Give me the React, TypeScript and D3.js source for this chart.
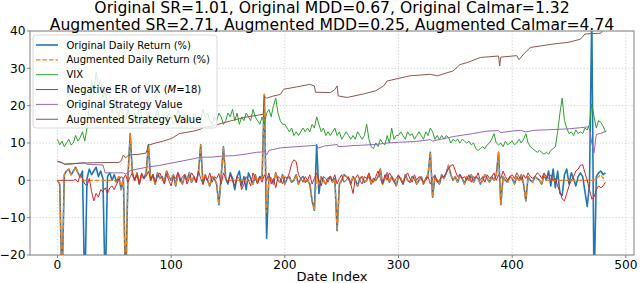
import React from "react";
import * as d3 from "d3";

const titleLines = [
  "Original SR=1.01, Original MDD=0.67, Original Calmar=1.32",
  "Augmented SR=2.71, Augmented MDD=0.25, Augmented Calmar=4.74",
];
const xTicks = [0, 100, 200, 300, 400, 500];
const yTicks = [-20, -10, 0, 10, 20, 30, 40];
const xLabel = "Date Index";

// sampled date indices (every second trading day, 0..482)
const dateIndex = d3.range(0, 484, 2);

const originalReturn = [
  0, -1, -30, 1.5, 2.5, 3, 1.5, 2.5, 3.5, 2,
  1, 2.5, -30, 0.5, 3, 1.5, 2.5, 3.5, 1, 2.5,
  0.5, -30, 1, 2, 0, 1.5, -0.5, 1, -2.5, 0.5,
  -30, 1, 12.5, 1.5, 0, 2, -1, 1.5, 0.5, 2,
  9.5, 0, 1.5, -1, 2, 0.5, 1, -0.5, 2.5, 1,
  0, 1.5, -1.5, 2, 0.5, -1, 1.5, 0, 2, -0.5,
  1, -0.5, 2, 9.5, -1, 1.5, 0, -1.5, 1, 0.5,
  -1, -6.5, 1, 9, 0.5, -1, 2, 0.5, -2.5, 1,
  2.5, -1.5, 1, -2.5, 2, 0.5, -1, 1.5, -0.5, 1,
  0.5, 23, -15.5, 1, 0.5, -1, 2, 0, -0.5, 1.5,
  -1, 0.5, 1, -0.5, 0, 1.5, -1, 0.5, 1, -0.5,
  0, -1, -5.5, -8, 9.5, -3.5, 1, 0, -1, 0.5,
  1, -0.5, 0.5, -13.5, -1, 0, 1.5, 1, 0.5, -1,
  1, 0, -1.5, 0.5, 1, -0.5, 0, 1.5, -1, 0.5,
  0, 1, 3, -1, 0.5, 2, -0.5, 1, 0, -1.5,
  1, 0.5, -1, 1.5, 0, -0.5, 1, 0.5, -1, 0,
  1, -1, 0.5, 1.5, 7.5, -4.5, 1, 0, -1, 1.5,
  0.5, 2, 4, 1.5, 0, 1, -0.5, 1.5, 0.5, -1,
  1, 0, 1.5, -0.5, 1, 0.5, -1, 0, 1.5, 0.5,
  -0.5, 1, 0, 1.5, 7.5, -6.5, 1, 0, -0.5, 1,
  0.5, -1, 1, 0, 1.5, -1, -5.5, 1, 0, -0.5,
  1, 0.5, 0, -1, 1.5, 0, 2.5, -1.5, 3, -2,
  2.5, -3.5, -4, 1.5, 3, -1, 2, 0.5, -1.5, 1,
  2, 1, -3, -7, -1, 45, -30, 1, 2, 2.5,
  1.5, 2,
];

const augmentedReturn = [
  0, -1, -30, 1.5, 2.5, 3, 1.5, 2.5, 3.5, 2,
  1, 0, 0, 0, 0, 0, 0, 0, 0, 0,
  0, 0, 0, 0, 0, 0, -0.5, 1, -2.5, 0.5,
  -30, 1, 12.5, 1.5, 0, 2, -1, 1.5, 0.5, 2,
  9.5, 0, 1.5, -1, 2, 0.5, 1, -0.5, 2.5, 1,
  0, 1.5, -1.5, 2, 0.5, -1, 1.5, 0, 2, -0.5,
  1, -0.5, 2, 9.5, -1, 1.5, 0, -1.5, 1, 0.5,
  -1, -6.5, 1, 9, 0.5, 0, 0, 0, 0, 0,
  0, 0, 0, 0, 0, 0, -1, 1.5, -0.5, 1,
  0.5, 23, -8.5, 1, 0.5, -1, 2, 0, -0.5, 1.5,
  -1, 0.5, 1, -0.5, 0, 1.5, -1, 0.5, 1, -0.5,
  0, -1, -5.5, -8, 1, -1, 1, 0, -1, 0.5,
  1, -0.5, 0.5, -13.5, -1, 0, 1.5, 1, 0.5, -1,
  1, 0, -1.5, 0.5, 1, -0.5, 0, 1.5, -1, 0.5,
  0, 1, 3, -1, 0.5, 2, -0.5, 1, 0, -1.5,
  1, 0.5, -1, 1.5, 0, -0.5, 1, 0.5, -1, 0,
  1, -1, 0.5, 1.5, 7.5, -4.5, 1, 0, -1, 1.5,
  0.5, 2, 4, 1.5, 0, 1, -0.5, 1.5, 0.5, -1,
  1, 0, 1.5, -0.5, 1, 0.5, -1, 0, 1.5, 0.5,
  -0.5, 1, 0, 1.5, 7.5, -6.5, 1, 0, -0.5, 1,
  0.5, -1, 1, 0, 1.5, -1, -5.5, 1, 0, -0.5,
  1, 0.5, 0, -1, 1.5, 0, 0, 0, 0, 0,
  0, 0, 0, 0, 0, 0, 0, 0, 0, 0,
  0, 0, 0, 0, 0, 0, 0, 0.5, 1, 1.5,
  0.5, 1,
];

const vix = [
  11, 9.5, 10.5, 9, 10, 11, 9.5, 10, 12, 10.5,
  11.5, 13, 10.5, 14, 20, 27, 23, 29, 25, 27,
  22, 24, 20, 21, 18, 22, 19, 17, 20, 18,
  16, 19, 17, 15, 18, 16, 20, 17, 15, 16,
  18, 16, 15, 17, 19, 16, 15, 17, 16, 18,
  17, 15, 16, 19, 17, 16, 18, 15, 17, 16,
  18, 17, 15, 16, 19, 17, 18, 16, 15, 17,
  16, 18, 17, 15, 16, 18, 17, 19, 16, 18,
  15, 17, 16, 18, 17, 16, 19, 17, 16, 15,
  17, 15, 18, 19, 17, 20, 22, 18, 16, 15,
  15, 14, 13, 14, 12, 13, 12, 13, 14, 13,
  14, 13, 15, 14, 17, 15, 13, 14, 12, 13,
  12, 13, 14, 12, 13, 11, 12, 13, 12, 11,
  12, 11, 13, 12, 11, 12, 15, 11, 9, 8.5,
  10, 9, 11, 10, 9.5, 12, 10, 14, 11, 12,
  12, 13, 12, 11, 13, 12, 12.5, 11, 12, 13,
  12, 11, 13, 12, 14, 13, 11, 12, 11, 12,
  11, 12, 11.5, 10, 11, 10.5, 11, 10, 11, 10.5,
  10, 10.5, 9.5, 10, 8.5, 8, 8.5, 9, 8.5, 9.5,
  10, 11, 12.5, 10, 9.5, 10, 9, 10.5, 9.5, 10,
  10.5, 9.5, 10, 11, 10, 11, 12.5, 10, 9, 8.5,
  8, 7.5, 8, 7.5, 7, 7.5, 7, 8, 8.5, 9,
  13, 18, 22, 16, 14, 12.5, 13, 12, 13.5, 12.5,
  13, 12.5, 14, 13.5, 15, 20.5, 17, 14, 16, 15.5,
  14.5, 13,
];

const negativeER = [
  0, 0, 0, 0, 0, 0, 0, 0, 0.3, -0.5,
  1.5, 0.5, -1, -1.5, 0.5, -3, -5.5, -3.5, -4.5, -2.5,
  -3, -2, -3.5, -2, -1.5, -2.5, -1, 0, 1, 0.5,
  1.5, -0.5, 1, 2, 0, 1.5, -1, 2, 0.5, 1,
  2.5, 0, 1.5, -0.5, 1, 2, 0.5, -1, 1.5, 0,
  -1.5, 1, 0.5, 2, -0.5, 1, 1.5, -1, 0.5, 2,
  1, -0.5, 2.5, 0.5, -1, 1, 0, 2, -0.5, 1,
  0.5, 1.8, -1, 2, 0.5, -0.5, 1.5, 0, -1.5, 1,
  0.5, -2.5, -1, 1, 0, -1.5, 2, 0.5, -1, 1,
  -0.5, 1.5, 0, 2, -1, 0.5, -2, 1, 0.5, -1,
  1, 0.5, 2, 4.5, 5.5, 5, 1.5, 0.5, -0.5, 1,
  0, 1.5, -1, 0.5, 2, 0, -1.5, 1, 0.5, -0.5,
  1, 0, 1.5, -1, 0.5, 1.5, -0.5, 0, 1, -1,
  -3.5, 0.5, 1.5, 0, -1, 1, 0.5, 2, 0, -0.5,
  1, 2.5, 0.5, -1, 1.5, 0, 2, 1, -0.5, 0.5,
  1.5, 0, -1, 1, 2, 0.5, -0.5, 1.5, 0, 1,
  0.5, -0.5, 0, 1, -1, 0.5, 1.5, -0.5, 0, 1,
  1, 2, 3, 4, 4.2, 2.5, 1, 1.5, 0.5, 1,
  0, 1.5, -0.5, 1, 0.5, 2, 0, 1, -0.5, 1.5,
  0.5, 1, 2, 0, 1.5, 0.5, 2.5, 1, 0, 1,
  1.5, 0.5, 2, 1, 0, 1.5, 0.5, 2, 1, 0.5,
  1, 2, 1.5, 0.5, 2, 1, 0.5, 1.5, 0, 0.5,
  -1.5, -3, -5, -5.5, -3.5, -1.5, 0, 1, 2.5, 3,
  4, 4.2, 2, 0, -2.5, -5, -4.5, -2.5, -1.5, -2,
  -1.5, -0.5,
];

// strategy value curves (vertices at given date indices)
const origValueIdx = [0, 6, 20, 24, 26, 40, 42, 58, 60, 64, 70, 80, 90, 100, 110, 120, 126, 135, 145, 155, 165, 175, 180, 182, 184, 186, 196, 210, 228, 229, 235, 246, 247, 260, 280, 290, 300, 315, 328, 330, 340, 350, 365, 378, 388, 390, 400, 407, 412, 420, 436, 450, 460, 466, 468, 470, 472, 474, 478, 483];
const origValue = [5.1, 4.4, 4.6, 4.7, 4.3, 4.1, 2.0, 2.0, 1.7, 2.6, 3.0, 3.6, 4.0, 4.6, 5.2, 5.8, 6.2, 6.2, 6.5, 6.6, 7.0, 7.5, 7.6, 7.9, 6.8, 8.0, 8.7, 9.0, 9.4, 8.6, 9.2, 9.6, 9.0, 9.3, 9.6, 10.0, 10.2, 10.4, 10.9, 10.5, 11.2, 11.8, 12.5, 13.2, 13.3, 12.8, 13.2, 13.4, 13.0, 13.4, 13.6, 13.8, 14.1, 14.3, 14.0, 10.0, 7.4, 12.3, 12.6, 13.2];

const augValueIdx = [0, 4, 6, 10, 20, 30, 54, 56, 58, 60, 62, 66, 70, 78, 80, 84, 93, 100, 102, 107, 120, 126, 128, 135, 145, 152, 165, 181, 182, 184, 190, 196, 199, 210, 222, 226, 227, 240, 244, 246, 247, 255, 270, 280, 287, 290, 300, 310, 328, 334, 348, 354, 360, 372, 388, 389, 390, 404, 406, 410, 416, 425, 436, 450, 460, 464, 470, 478, 480, 483];
const augValue = [5.1, 4.8, 4.3, 4.3, 4.6, 4.7, 4.8, 5.2, 6.8, 6.0, 6.6, 6.9, 6.9, 7.3, 9.4, 9.8, 10.5, 11.2, 11.5, 12.5, 13.2, 13.7, 14.2, 14.5, 15.3, 15.9, 16.9, 17.7, 22.5, 22.0, 22.6, 23.0, 24.4, 25.0, 25.7, 25.3, 23.6, 23.5, 24.3, 25.3, 22.6, 22.2, 23.2, 24.0, 25.3, 26.6, 27.3, 28.0, 28.4, 28.0, 29.3, 31.0, 31.5, 32.9, 33.3, 30.6, 33.0, 33.4, 32.3, 33.8, 35.6, 36.0, 36.5, 37.0, 37.8, 39.2, 39.3, 39.4, 40.5, 41.5];

const legendLabels = [
  "Original Daily Return (%)",
  "Augmented Daily Return (%)",
  "VIX",
  "Negative ER of VIX (M=18)",
  "Original Strategy Value",
  "Augmented Strategy Value",
];

const COLORS = ["#1f77b4", "#ff7f0e", "#2ca02c", "#d62728", "#9467bd", "#8c564b"];
const FONT = "DejaVu Sans, sans-serif";
const W = 640;
const H = 283;
const PL = 30, PR = 634, PT = 31, PB = 255;

export default function App() {
  const x = d3.scaleLinear().domain([-24.15, 507.15]).range([PL, PR]);
  const y = d3.scaleLinear().domain([-20, 40]).range([PB, PT]);

  const dense = (vals: number[]) =>
    d3.line<number>().x((_, k) => x(dateIndex[k])).y((v) => y(v))(vals) || "";
  const sparse = (idx: number[], vals: number[]) =>
    d3.line<number>().x((_, k) => x(idx[k])).y((v) => y(v))(vals) || "";

  const series = [
    { d: dense(originalReturn), c: COLORS[0], w: 1.6, dash: undefined },
    { d: dense(augmentedReturn), c: COLORS[1], w: 1.3, dash: "4.5 2" },
    { d: dense(vix), c: COLORS[2], w: 1, dash: undefined },
    { d: dense(negativeER), c: COLORS[3], w: 1, dash: undefined },
    { d: sparse(origValueIdx, origValue), c: COLORS[4], w: 1, dash: undefined },
    { d: sparse(augValueIdx, augValue), c: COLORS[5], w: 1, dash: undefined },
  ];

  const legX = 33, legY = 35, legW = 184, legH = 93;
  const rowY = (k: number) => 45 + k * 14.85;

  return (
    <svg
      width={W}
      height={H}
      style={{ position: "fixed", left: 0, top: 0, background: "#fff" }}
      fontFamily={FONT}
    >
      <rect x={0} y={0} width={W} height={H} fill="#fff" />
      <defs>
        <clipPath id="plotClip">
          <rect x={PL} y={PT} width={PR - PL} height={PB - PT} />
        </clipPath>
      </defs>
      {/* grid */}
      {xTicks.map((t) => (
        <line key={"gx" + t} x1={x(t)} x2={x(t)} y1={PT} y2={PB} stroke="#c4c4c4" strokeWidth={0.8} strokeDasharray="1.2 2" />
      ))}
      {yTicks.map((t) => (
        <line key={"gy" + t} x1={PL} x2={PR} y1={y(t)} y2={y(t)} stroke="#c4c4c4" strokeWidth={0.8} strokeDasharray="1.2 2" />
      ))}
      {/* lines */}
      <g clipPath="url(#plotClip)">
        {series.map((s, k) => (
          <path key={k} d={s.d} fill="none" stroke={s.c} strokeWidth={s.w} strokeDasharray={s.dash} strokeLinejoin="round" />
        ))}
      </g>
      {/* spines */}
      <rect x={PL} y={PT} width={PR - PL} height={PB - PT} fill="none" stroke="#808080" strokeWidth={1} />
      {/* ticks */}
      {xTicks.map((t) => (
        <g key={"tx" + t}>
          <line x1={x(t)} x2={x(t)} y1={PB} y2={PB + 3} stroke="#808080" />
          <text x={x(t)} y={268.5} fontSize={12.2} textAnchor="middle" fill="#000">{t}</text>
        </g>
      ))}
      {yTicks.map((t) => (
        <g key={"ty" + t}>
          <line x1={PL - 3} x2={PL} y1={y(t)} y2={y(t)} stroke="#808080" />
          <text x={25.5} y={y(t)} dy="0.36em" fontSize={12.2} textAnchor="end" fill="#000">{t < 0 ? "\u2212" + Math.abs(t) : t}</text>
        </g>
      ))}
      <text x={(PL + PR) / 2} y={281} fontSize={13} textAnchor="middle" fill="#000">{xLabel}</text>
      {/* title */}
      <text x={(PL + PR) / 2} y={12.5} fontSize={15.6} textAnchor="middle" fill="#000">{titleLines[0]}</text>
      <text x={(PL + PR) / 2} y={29.5} fontSize={15.6} textAnchor="middle" fill="#000">{titleLines[1]}</text>
      {/* legend */}
      <rect x={legX} y={legY} width={legW} height={legH} rx={3} fill="#fff" fillOpacity={0.8} stroke="#d0d0d0" strokeWidth={0.8} />
      {legendLabels.map((lab, k) => (
        <g key={"lg" + k}>
          <line x1={36} x2={58} y1={rowY(k)} y2={rowY(k)} stroke={series[k].c} strokeWidth={series[k].w} strokeDasharray={series[k].dash} />
          <text x={66.5} y={rowY(k)} dy="0.36em" fontSize={10} fill="#000">
            {k === 3 ? (
              <>
                {"Negative ER of VIX ("}
                <tspan fontStyle="italic">M</tspan>
                {"=18)"}
              </>
            ) : (
              lab
            )}
          </text>
        </g>
      ))}
    </svg>
  );
}
